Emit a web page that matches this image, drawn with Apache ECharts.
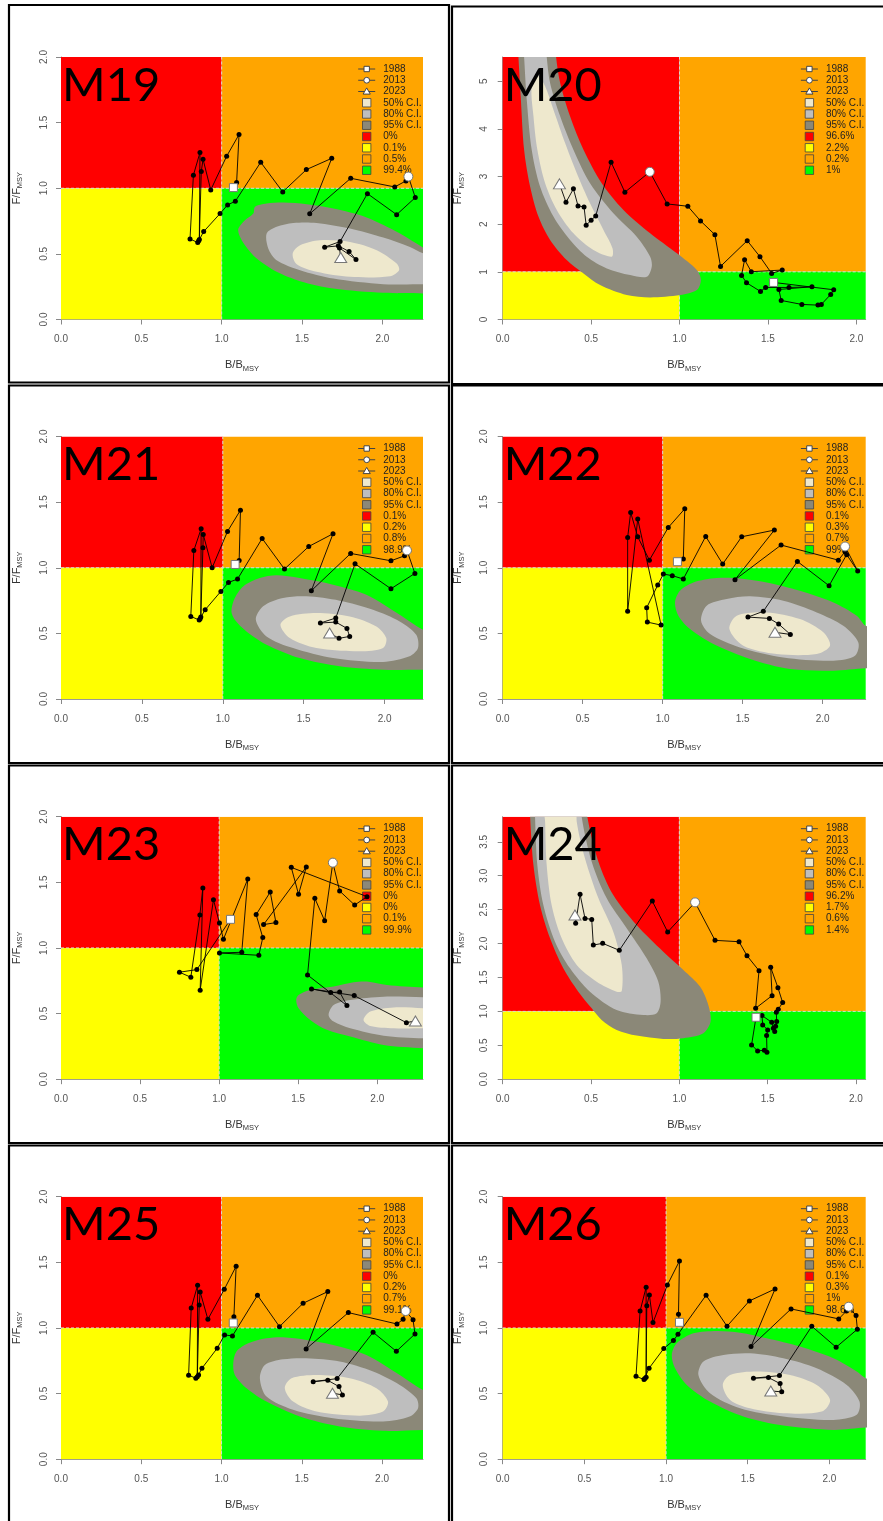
<!DOCTYPE html>
<html>
<head>
<meta charset="utf-8">
<script src="https://cdn.jsdelivr.net/npm/echarts@6/dist/echarts.min.js"></script>
<style>
html, body { margin: 0; padding: 0; background: #ffffff; }
#chart { width: 883px; height: 1521px; }
</style>
</head>
<body>
<div id="chart"></div>
<script>
// ---- Kobe plots for model runs M19 - M26 ----

const PANEL_NAMES = ['M19', 'M20', 'M21', 'M22', 'M23', 'M24', 'M25', 'M26'];
const X_MAX = [2.253, 2.053, 2.237, 2.269, 2.289, 2.055, 2.255, 2.222];
const Y_MAX = [2, 5.51, 2, 2, 2, 3.87, 2, 2];
const X_TICKS = [0, 0.5, 1, 1.5, 2];
const Y_TICKS_STD = [0, 0.5, 1, 1.5, 2];
const Y_TICKS_M20 = [0, 1, 2, 3, 4, 5];
const Y_TICKS_M24 = [0, 0.5, 1, 1.5, 2, 2.5, 3, 3.5];
const REF = 1; // B/Bmsy = 1 and F/Fmsy = 1

const FIRST_YEAR = 1988;
const KEY_YEARS = [1988, 2013, 2023];
const CI_LABELS = ['50% C.I.', '80% C.I.', '95% C.I.'];

// quadrant probabilities: red, yellow, orange, green
const PCT_M19 = ['0%', '0.1%', '0.5%', '99.4%'];
const PCT_M20 = ['96.6%', '2.2%', '0.2%', '1%'];
const PCT_M21 = ['0.1%', '0.2%', '0.8%', '98.9%'];
const PCT_M22 = ['0.1%', '0.3%', '0.7%', '99%'];
const PCT_M23 = ['0%', '0%', '0.1%', '99.9%'];
const PCT_M24 = ['96.2%', '1.7%', '0.6%', '1.4%'];
const PCT_M25 = ['0%', '0.2%', '0.7%', '99.1%'];
const PCT_M26 = ['0.1%', '0.3%', '1%', '98.6%'];

// trajectories 1988-2023 (B/Bmsy, F/Fmsy)
const B_M19 = [1.073,1.093,1.108,1.031,0.932,0.884,0.873,0.861,0.865,0.824,0.803,0.851,0.857,0.888,0.990,1.037,1.085,1.243,1.380,1.527,1.685,1.548,1.803,2.077,2.147,2.162,2.205,2.089,1.907,1.737,1.641,1.726,1.793,1.836,1.733,1.741];
const F_M19 = [1.005,1.043,1.409,1.244,0.987,1.221,1.127,0.609,1.272,1.100,0.614,0.586,0.600,0.670,0.807,0.873,0.901,1.198,0.972,1.142,1.228,0.805,1.076,1.010,1.056,1.089,0.929,0.799,0.959,0.594,0.551,0.561,0.518,0.457,0.545,0.472];

const B_M20 = [1.532,1.872,1.855,1.802,1.783,1.692,1.575,1.562,1.749,1.619,1.487,1.458,1.379,1.351,1.368,1.406,1.581,1.521,1.455,1.383,1.232,1.200,1.119,1.047,0.930,0.832,0.691,0.613,0.526,0.500,0.472,0.460,0.426,0.400,0.358,0.321];
const F_M20 = [0.778,0.624,0.526,0.316,0.302,0.316,0.400,0.631,0.687,0.673,0.673,0.589,0.771,0.926,1.255,1.003,1.038,0.968,1.318,1.655,1.115,1.781,2.069,2.377,2.426,3.100,2.672,3.303,2.174,2.083,1.978,2.363,2.384,2.742,2.461,2.847];

const B_M21 = [1.076,1.101,1.109,1.029,0.934,0.879,0.877,0.864,0.866,0.821,0.802,0.854,0.860,0.891,0.988,1.035,1.091,1.243,1.381,1.531,1.681,1.547,1.790,2.039,2.123,2.138,2.187,2.039,1.817,1.698,1.603,1.698,1.767,1.784,1.718,1.660];
const F_M21 = [1.025,1.056,1.439,1.277,1.000,1.254,1.152,0.624,1.297,1.132,0.629,0.602,0.612,0.680,0.820,0.888,0.914,1.223,0.990,1.162,1.259,0.825,1.109,1.053,1.091,1.132,0.957,0.840,1.030,0.617,0.579,0.586,0.538,0.477,0.462,0.503];

const B_M22 = [1.092,1.129,1.138,1.035,0.917,0.844,0.800,0.781,0.781,0.844,0.990,0.904,0.900,0.969,1.004,1.060,1.129,1.269,1.375,1.494,1.698,1.452,1.740,2.098,2.140,2.140,2.219,2.150,2.040,1.842,1.629,1.533,1.667,1.725,1.798,1.702];
const F_M22 = [1.046,1.066,1.449,1.307,1.058,1.236,1.421,1.231,0.668,1.371,0.563,0.586,0.695,0.868,0.952,0.940,0.914,1.239,1.028,1.236,1.287,0.909,1.173,1.058,1.122,1.162,0.975,1.100,0.863,1.048,0.668,0.624,0.614,0.571,0.492,0.508];

const B_M23 = [1.072,0.859,0.749,0.821,0.878,0.897,0.880,0.964,1.002,1.027,1.181,1.143,1.002,1.251,1.276,1.234,1.323,1.359,1.281,1.551,1.502,1.456,1.935,1.857,1.762,1.719,1.667,1.605,1.559,1.808,1.762,1.705,1.584,1.854,2.184,2.241];
const F_M23 = [1.218,0.835,0.815,0.777,1.251,1.457,0.678,1.368,1.190,1.066,1.525,0.967,0.962,0.944,1.079,1.254,1.426,1.193,1.178,1.617,1.409,1.614,1.391,1.327,1.434,1.650,1.208,1.378,0.794,0.561,0.665,0.660,0.688,0.637,0.431,0.444];

const B_M24 = [1.434,1.409,1.443,1.481,1.496,1.494,1.500,1.472,1.468,1.523,1.532,1.540,1.545,1.551,1.549,1.560,1.585,1.558,1.517,1.525,1.432,1.451,1.383,1.338,1.202,1.089,0.934,0.847,0.660,0.566,0.513,0.504,0.466,0.438,0.413,0.409];
const F_M24 = [0.913,0.506,0.417,0.427,0.398,0.643,0.727,0.800,0.938,0.839,0.751,0.702,0.780,0.849,0.987,1.031,1.129,1.350,1.650,1.232,1.046,1.600,1.821,2.027,2.047,2.607,2.170,2.626,1.900,2.003,1.978,2.356,2.371,2.725,2.298,2.420];

const B_M25 = [1.073,1.077,1.091,1.017,0.915,0.867,0.861,0.849,0.851,0.811,0.795,0.840,0.857,0.878,0.973,1.019,1.068,1.224,1.361,1.508,1.662,1.527,1.790,2.093,2.131,2.147,2.193,2.205,2.089,1.944,1.720,1.571,1.662,1.732,1.753,1.691];
const F_M25 = [1.038,1.086,1.470,1.294,1.066,1.274,1.175,0.629,1.325,1.152,0.640,0.617,0.642,0.693,0.845,0.947,0.939,1.249,1.010,1.188,1.277,0.840,1.117,1.030,1.066,1.129,1.063,0.954,0.822,0.967,0.614,0.591,0.601,0.553,0.490,0.503];

const B_M26 = [1.082,1.076,1.082,1.008,0.920,0.898,0.882,0.878,0.878,0.841,0.816,0.865,0.870,0.896,0.986,1.045,1.073,1.245,1.373,1.510,1.667,1.520,1.765,2.057,2.104,2.118,2.163,2.171,2.041,1.892,1.694,1.535,1.627,1.698,1.708,1.641];
const F_M26 = [1.043,1.104,1.510,1.327,1.041,1.251,1.170,0.624,1.310,1.129,0.632,0.607,0.615,0.693,0.843,0.904,0.952,1.249,1.013,1.206,1.297,0.858,1.145,1.069,1.129,1.162,1.094,0.990,0.853,1.013,0.637,0.617,0.622,0.576,0.513,0.520];

// confidence region outlines for the final year (B/Bmsy, F/Fmsy)
const CI95_M19 = [[1.104,0.693],[1.145,0.756],[1.197,0.807],[1.207,0.858],[1.280,0.883],[1.384,0.891],[1.529,0.878],[1.695,0.845],[1.902,0.777],[2.110,0.655],[2.255,0.548],[2.35,0.50],[2.35,0.19],[2.255,0.198],[2.006,0.203],[1.695,0.236],[1.488,0.292],[1.342,0.363],[1.218,0.464],[1.145,0.566],[1.110,0.642]];
const CI80_M19 = [[1.280,0.655],[1.342,0.706],[1.446,0.736],[1.591,0.736],[1.799,0.693],[2.006,0.624],[2.172,0.553],[2.255,0.503],[2.35,0.47],[2.35,0.26],[2.255,0.269],[2.006,0.269],[1.695,0.312],[1.488,0.376],[1.342,0.452],[1.290,0.541]];
const CI50_M19 = [[1.442,0.503],[1.488,0.566],[1.612,0.604],[1.799,0.591],[1.965,0.528],[2.089,0.426],[2.104,0.376],[2.048,0.330],[1.799,0.325],[1.591,0.363],[1.467,0.421]];

const CI95_M20 = [[0.085,5.8],[0.089,5.51],[0.102,4.670],[0.121,3.562],[0.155,2.791],[0.202,2.160],[0.268,1.669],[0.362,1.248],[0.457,0.968],[0.551,0.722],[0.702,0.512],[0.834,0.463],[1.004,0.512],[1.098,0.617],[1.121,0.827],[1.098,1.038],[0.985,1.388],[0.834,1.809],[0.683,2.300],[0.560,2.861],[0.457,3.562],[0.381,4.264],[0.325,4.965],[0.302,5.51],[0.30,5.8]];
const CI80_M20 = [[0.115,5.8],[0.121,5.51],[0.136,4.614],[0.164,3.562],[0.211,2.791],[0.287,2.160],[0.381,1.669],[0.475,1.318],[0.589,1.073],[0.721,0.933],[0.815,0.898],[0.843,1.108],[0.834,1.318],[0.758,1.739],[0.626,2.230],[0.494,2.861],[0.400,3.562],[0.325,4.264],[0.268,4.965],[0.249,5.51],[0.245,5.8]];
const CI50_M20 = [[0.202,5.105],[0.164,4.895],[0.174,4.264],[0.196,3.562],[0.240,2.861],[0.306,2.300],[0.400,1.809],[0.513,1.459],[0.617,1.318],[0.621,1.494],[0.570,1.879],[0.494,2.440],[0.419,3.072],[0.353,3.703],[0.287,4.404],[0.240,4.895]];

const CI95_M21 = [[1.053,0.668],[1.074,0.769],[1.126,0.858],[1.228,0.921],[1.331,0.942],[1.475,0.921],[1.681,0.871],[1.887,0.794],[2.093,0.642],[2.237,0.528],[2.33,0.49],[2.33,0.22],[2.237,0.223],[1.990,0.223],[1.722,0.249],[1.475,0.312],[1.270,0.414],[1.146,0.515],[1.074,0.604]];
const CI80_M21 = [[1.204,0.604],[1.249,0.706],[1.372,0.769],[1.516,0.782],[1.722,0.749],[1.928,0.680],[2.093,0.591],[2.195,0.490],[2.206,0.388],[2.154,0.325],[1.990,0.282],[1.681,0.312],[1.434,0.388],[1.270,0.477]];
const CI50_M21 = [[1.356,0.566],[1.414,0.629],[1.578,0.655],[1.784,0.629],[1.949,0.553],[2.010,0.464],[1.990,0.388],[1.846,0.363],[1.578,0.388],[1.414,0.464]];

const CI95_M22 = [[1.077,0.736],[1.108,0.825],[1.192,0.888],[1.338,0.921],[1.483,0.919],[1.650,0.888],[1.858,0.825],[2.067,0.736],[2.213,0.635],[2.269,0.558],[2.35,0.53],[2.35,0.23],[2.269,0.234],[2.067,0.216],[1.796,0.228],[1.546,0.305],[1.317,0.419],[1.171,0.533],[1.098,0.635]];
const CI80_M22 = [[1.240,0.596],[1.275,0.711],[1.400,0.761],[1.546,0.782],[1.754,0.749],[1.963,0.660],[2.129,0.558],[2.223,0.431],[2.202,0.330],[2.067,0.292],[1.754,0.317],[1.483,0.393],[1.296,0.495]];
const CI50_M22 = [[1.417,0.533],[1.463,0.635],[1.650,0.660],[1.858,0.609],[2.004,0.508],[2.046,0.406],[1.963,0.343],[1.713,0.343],[1.504,0.406]];

const CI95_M23 = [[1.487,0.604],[1.502,0.642],[1.576,0.680],[1.724,0.706],[1.850,0.739],[1.935,0.744],[2.061,0.718],[2.289,0.698],[2.40,0.69],[2.40,0.23],[2.289,0.236],[2.040,0.261],[1.829,0.325],[1.681,0.376],[1.576,0.452],[1.502,0.541]];
const CI80_M23 = [[1.692,0.490],[1.724,0.566],[1.829,0.604],[2.040,0.629],[2.289,0.624],[2.40,0.62],[2.40,0.31],[2.289,0.312],[2.040,0.332],[1.829,0.388],[1.724,0.439]];
const CI50_M23 = [[1.913,0.452],[1.956,0.515],[2.103,0.546],[2.289,0.541],[2.40,0.54],[2.40,0.39],[2.289,0.388],[2.103,0.388],[1.956,0.406]];

const CI95_M24 = [[0.150,4.2],[0.155,3.87],[0.174,3.157],[0.211,2.568],[0.268,2.077],[0.343,1.635],[0.428,1.291],[0.504,1.046],[0.560,0.874],[0.645,0.727],[0.758,0.643],[0.909,0.594],[1.023,0.604],[1.136,0.677],[1.177,0.849],[1.164,1.095],[1.117,1.365],[1.023,1.610],[0.909,1.880],[0.758,2.273],[0.626,2.715],[0.542,3.206],[0.479,3.87],[0.475,4.2]];
const CI80_M24 = [[0.180,4.2],[0.183,3.87],[0.196,3.157],[0.230,2.568],[0.296,2.028],[0.381,1.635],[0.494,1.291],[0.645,1.021],[0.796,0.947],[0.872,0.972],[0.894,1.144],[0.881,1.438],[0.815,1.782],[0.702,2.224],[0.589,2.666],[0.504,3.206],[0.447,3.87],[0.445,4.2]];
const CI50_M24 = [[0.235,4.2],[0.240,3.795],[0.249,3.157],[0.277,2.568],[0.334,2.077],[0.419,1.684],[0.532,1.438],[0.645,1.291],[0.674,1.300],[0.674,1.684],[0.626,2.175],[0.542,2.666],[0.466,3.255],[0.419,3.8],[0.415,4.2]];

const CI95_M25 = [[1.073,0.731],[1.093,0.820],[1.166,0.883],[1.280,0.921],[1.384,0.929],[1.529,0.909],[1.695,0.871],[1.902,0.794],[2.110,0.642],[2.255,0.528],[2.35,0.49],[2.35,0.22],[2.255,0.223],[2.006,0.216],[1.736,0.249],[1.488,0.325],[1.280,0.439],[1.156,0.541],[1.083,0.642]];
const CI80_M25 = [[1.239,0.617],[1.270,0.718],[1.384,0.761],[1.529,0.769],[1.736,0.744],[1.944,0.668],[2.110,0.566],[2.214,0.464],[2.224,0.388],[2.172,0.325],[2.006,0.287],[1.695,0.312],[1.446,0.376],[1.280,0.477]];
const CI50_M25 = [[1.394,0.541],[1.436,0.617],[1.591,0.642],[1.799,0.617],[1.965,0.541],[2.037,0.439],[2.006,0.363],[1.861,0.332],[1.591,0.363],[1.446,0.439]];

const CI95_M26 = [[1.035,0.794],[1.065,0.883],[1.167,0.959],[1.310,0.977],[1.453,0.964],[1.616,0.921],[1.820,0.858],[2.024,0.769],[2.167,0.668],[2.222,0.617],[2.32,0.58],[2.32,0.24],[2.222,0.241],[2.024,0.223],[1.718,0.256],[1.473,0.325],[1.269,0.439],[1.127,0.566],[1.055,0.693]];
const CI80_M26 = [[1.198,0.642],[1.229,0.744],[1.351,0.794],[1.514,0.807],[1.718,0.769],[1.922,0.693],[2.106,0.566],[2.184,0.439],[2.167,0.338],[2.024,0.299],[1.718,0.325],[1.453,0.388],[1.269,0.503]];
const CI50_M26 = [[1.347,0.566],[1.392,0.642],[1.555,0.668],[1.759,0.642],[1.922,0.566],[2.004,0.452],[1.953,0.363],[1.718,0.350],[1.514,0.388],[1.392,0.452]];

// ---- styling ----
const QUAD_COLORS = ['#FF0000', '#FFFF00', '#FFA500', '#00FF00'];   // red, yellow, orange, green
const CI_FILL = ['#8B8878', '#BEBEBE', '#EEE8CD'];                   // 95%, 80%, 50%
const CI_LEGEND_FILL = ['#EEE8CD', '#BEBEBE', '#8B8878'];            // 50%, 80%, 95%
const KEY_SYMBOLS = ['rect', 'circle', 'triangle'];
const KEY_SIZES = [8, 9, [12, 10]];
const FONT = "'Liberation Sans', Arial, Helvetica, sans-serif";

const PANELS = [
  { B: B_M19, F: F_M19, ci: [CI95_M19, CI80_M19, CI50_M19], pct: PCT_M19, yTicks: Y_TICKS_STD, yInt: 0.5, yDec: 1 },
  { B: B_M20, F: F_M20, ci: [CI95_M20, CI80_M20, CI50_M20], pct: PCT_M20, yTicks: Y_TICKS_M20, yInt: 1, yDec: 0 },
  { B: B_M21, F: F_M21, ci: [CI95_M21, CI80_M21, CI50_M21], pct: PCT_M21, yTicks: Y_TICKS_STD, yInt: 0.5, yDec: 1 },
  { B: B_M22, F: F_M22, ci: [CI95_M22, CI80_M22, CI50_M22], pct: PCT_M22, yTicks: Y_TICKS_STD, yInt: 0.5, yDec: 1 },
  { B: B_M23, F: F_M23, ci: [CI95_M23, CI80_M23, CI50_M23], pct: PCT_M23, yTicks: Y_TICKS_STD, yInt: 0.5, yDec: 1 },
  { B: B_M24, F: F_M24, ci: [CI95_M24, CI80_M24, CI50_M24], pct: PCT_M24, yTicks: Y_TICKS_M24, yInt: 0.5, yDec: 1 },
  { B: B_M25, F: F_M25, ci: [CI95_M25, CI80_M25, CI50_M25], pct: PCT_M25, yTicks: Y_TICKS_STD, yInt: 0.5, yDec: 1 },
  { B: B_M26, F: F_M26, ci: [CI95_M26, CI80_M26, CI50_M26], pct: PCT_M26, yTicks: Y_TICKS_STD, yInt: 0.5, yDec: 1 }
].map((p, k) => Object.assign(p, { name: PANEL_NAMES[k], xMax: X_MAX[k], yMax: Y_MAX[k] }));

// ---- page layout (pixels) ----
const COL_LEFT = [61, 502.7];
const COL_WIDTH = [362, 363];
const ROW_TOP = [57, 436.5, 816.7, 1196.7];
const PLOT_H = 262.5;
const FRAME_X = [9, 452];
const FRAME_W = [440, 440];
const FRAME_TOP = [[5, 6.5], [385.5, 385.5], [765.5, 765.5], [1145.5, 1145.5]];
const FRAME_H = [377.5, 377.5, 377.5, 400];

function plotRect(k) {
  const col = k % 2, row = Math.floor(k / 2);
  return { x: COL_LEFT[col], y: ROW_TOP[row], w: COL_WIDTH[col], h: PLOT_H, col, row };
}

const axisNameStyle = () => ({
  rich: {
    a: { fontFamily: FONT, fontSize: 11, color: '#333', lineHeight: 15 },
    b: { fontFamily: FONT, fontSize: 7.5, color: '#333', lineHeight: 9, verticalAlign: 'bottom' }
  }
});

const grids = [], xAxes = [], yAxes = [], series = [], graphics = [];

PANELS.forEach((p, k) => {
  const r = plotRect(k);
  grids.push({ left: r.x, top: r.y, width: r.w, height: r.h, containLabel: false });

  xAxes.push({
    gridIndex: k, type: 'value', min: 0, max: p.xMax, interval: 0.5,
    name: '{a|B/B}{b|MSY}', nameLocation: 'middle', nameGap: 38,
    nameTextStyle: axisNameStyle(),
    axisLine: { show: true, onZero: false, lineStyle: { color: '#999', width: 1 } },
    axisTick: { show: true, length: 5, customValues: X_TICKS, lineStyle: { color: '#888' } },
    axisLabel: { customValues: X_TICKS, margin: 15, color: '#555', fontSize: 10, fontFamily: FONT,
                 formatter: v => v.toFixed(1) },
    splitLine: { show: false }
  });

  yAxes.push({
    gridIndex: k, type: 'value', min: 0, max: p.yMax, interval: p.yInt,
    name: '{a|F/F}{b|MSY}', nameLocation: 'middle', nameGap: 37, nameRotate: 90,
    nameTextStyle: axisNameStyle(),
    axisLine: { show: true, onZero: false, lineStyle: { color: '#999', width: 1 } },
    axisTick: { show: true, length: 5, customValues: p.yTicks, lineStyle: { color: '#888' } },
    axisLabel: { customValues: p.yTicks, rotate: 90, margin: r.col === 0 ? 12 : 13, color: '#555', fontSize: 10, fontFamily: FONT,
                 formatter: v => v.toFixed(p.yDec) },
    splitLine: { show: false }
  });

  // Kobe quadrants
  const quads = [
    [0, REF, REF, p.yMax, 0],
    [0, REF, 0, REF, 1],
    [REF, p.xMax, REF, p.yMax, 2],
    [REF, p.xMax, 0, REF, 3]
  ];
  series.push({
    type: 'custom', xAxisIndex: k, yAxisIndex: k, silent: true, z: 1, clip: true,
    data: quads,
    renderItem: (params, api) => {
      const a = api.coord([api.value(0), api.value(3)]);
      const b = api.coord([api.value(1), api.value(2)]);
      return { type: 'rect', shape: { x: a[0], y: a[1], width: b[0] - a[0], height: b[1] - a[1] },
               style: { fill: QUAD_COLORS[api.value(4)] } };
    }
  });

  // reference lines at B/Bmsy = 1 and F/Fmsy = 1
  series.push({
    type: 'custom', xAxisIndex: k, yAxisIndex: k, silent: true, z: 1.5, clip: true,
    data: [[REF, 0, REF, p.yMax], [0, REF, p.xMax, REF]],
    renderItem: (params, api) => {
      const a = api.coord([api.value(0), api.value(1)]);
      const b = api.coord([api.value(2), api.value(3)]);
      return { type: 'line', shape: { x1: a[0], y1: a[1], x2: b[0], y2: b[1] },
               style: { stroke: '#d6d6d6', lineWidth: 1, lineDash: [3, 2] } };
    }
  });

  // confidence regions
  series.push({
    type: 'custom', xAxisIndex: k, yAxisIndex: k, silent: true, z: 2, clip: true,
    data: p.ci.map((poly, j) => [poly[0][0], poly[0][1], j]),
    renderItem: (params, api) => {
      const j = api.value(2);
      const pts = p.ci[j].map(v => api.coord(v));
      return { type: 'polygon', shape: { points: pts, smooth: 0.3 }, style: { fill: CI_FILL[j] } };
    }
  });

  // stock trajectory
  series.push({
    type: 'line', xAxisIndex: k, yAxisIndex: k, silent: true, z: 4,
    data: p.B.map((b, i) => [b, p.F[i]]),
    symbol: 'circle', symbolSize: 5, showSymbol: true, showAllSymbol: true,
    itemStyle: { color: '#000', borderWidth: 0 },
    lineStyle: { color: '#000', width: 0.9 }
  });

  // start, reference and final year markers
  series.push({
    type: 'scatter', xAxisIndex: k, yAxisIndex: k, silent: true, z: 5,
    data: KEY_YEARS.map((yr, j) => {
      const i = yr - FIRST_YEAR;
      return { value: [p.B[i], p.F[i]], symbol: KEY_SYMBOLS[j], symbolSize: KEY_SIZES[j] };
    }),
    itemStyle: { color: '#fff', borderColor: '#777', borderWidth: 1, opacity: 1 }
  });

  // panel frame
  graphics.push({
    type: 'rect', silent: true, z: 0,
    shape: { x: FRAME_X[r.col], y: FRAME_TOP[r.row][r.col], width: FRAME_W[r.col], height: FRAME_H[r.row] },
    style: { fill: null, stroke: '#000', lineWidth: 2.2 }
  });

  // run label
  graphics.push({
    type: 'text', silent: true, z: 3, x: r.x + 1, y: r.y + 5,
    style: { text: p.name, font: '47px Lato, "Noto Sans", sans-serif', fill: '#000', verticalAlign: 'top', align: 'left' }
  });

  // legend
  const right = r.x + r.w;
  const sx = right - 56.3, tx = right - 39.7;
  const rowY = i => r.y + 12 + i * 11.25;
  const labels = KEY_YEARS.map(String).concat(CI_LABELS, p.pct);
  labels.forEach((txt, i) => {
    const cy = rowY(i);
    graphics.push({ type: 'text', silent: true, z: 3, x: tx, y: cy,
      style: { text: txt, font: '10px ' + FONT, fill: '#222', verticalAlign: 'middle', align: 'left' } });
    if (i < 3) {
      graphics.push({ type: 'line', silent: true, z: 3,
        shape: { x1: sx - 8.5, y1: cy, x2: sx + 8.5, y2: cy }, style: { stroke: '#444', lineWidth: 1 } });
      const sym = { z: 3.1, silent: true, style: { fill: '#fff', stroke: '#444', lineWidth: 1 } };
      if (i === 0) graphics.push(Object.assign({ type: 'rect', shape: { x: sx - 2.7, y: cy - 2.7, width: 5.4, height: 5.4 } }, sym));
      if (i === 1) graphics.push(Object.assign({ type: 'circle', shape: { cx: sx, cy: cy, r: 2.9 } }, sym));
      if (i === 2) graphics.push(Object.assign({ type: 'polygon', shape: { points: [[sx, cy - 3.6], [sx + 3.6, cy + 2.6], [sx - 3.6, cy + 2.6]] } }, sym));
    } else {
      const fill = i < 6 ? CI_LEGEND_FILL[i - 3] : QUAD_COLORS[i - 6];
      graphics.push({ type: 'rect', silent: true, z: 3,
        shape: { x: sx - 4.2, y: cy - 4.2, width: 8.4, height: 8.4 },
        style: { fill: fill, stroke: '#444', lineWidth: 0.8 } });
    }
  });
});

const chart = echarts.init(document.getElementById('chart'), null, { renderer: 'canvas', width: 883, height: 1521 });
chart.setOption({
  animation: false,
  backgroundColor: '#ffffff',
  grid: grids,
  xAxis: xAxes,
  yAxis: yAxes,
  series: series,
  graphic: { elements: graphics }
});
</script>
</body>
</html>
